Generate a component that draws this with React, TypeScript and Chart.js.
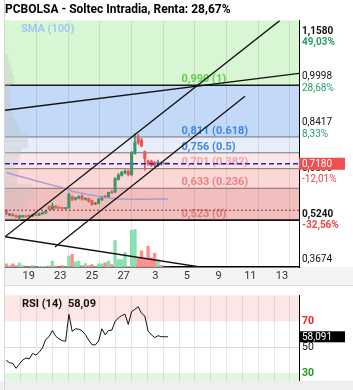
import React, { useEffect, useRef } from 'react';
import { Chart, registerables } from 'chart.js';

Chart.register(...registerables);

const FONT = 'Roboto, "Noto Sans", "DejaVu Sans", sans-serif';
const TITLE = 'PCBOLSA - Soltec Intradia, Renta: 28,67%';

// ---------- data ----------
const slots = [0,1,2,3,4,5,6,7,8,9,10,11,12,13,14,15,16,17,18,19,20,21,22,23,24,25,26,27,28,29,30,31,32,33,34,35,36,37,38,39,40,41,42,43,44,45,46,47,48,49];

const opens = [0.557,0.540,0.543,0.538,0.531,0.535,0.537,0.535,0.537,0.542,0.540,0.544,0.548,0.570,0.561,0.571,0.566,0.566,0.563,0.565,0.604,0.594,0.598,0.606,0.594,0.597,0.590,0.578,0.581,0.593,0.606,0.603,0.622,0.620,0.664,0.678,0.686,0.693,0.680,0.754,0.808,0.800,0.760,0.728,0.727,0.723,0.712,0.721,0.718,0.718];
const highs = [0.559,0.546,0.545,0.540,0.540,0.539,0.538,0.540,0.544,0.543,0.547,0.551,0.556,0.572,0.582,0.573,0.568,0.567,0.566,0.616,0.607,0.602,0.607,0.610,0.601,0.599,0.592,0.584,0.598,0.606,0.609,0.620,0.625,0.670,0.684,0.692,0.697,0.696,0.760,0.823,0.820,0.806,0.762,0.731,0.731,0.726,0.731,0.724,0.719,0.719];
const lows = [0.541,0.538,0.536,0.532,0.523,0.532,0.533,0.533,0.535,0.538,0.538,0.543,0.546,0.559,0.559,0.563,0.562,0.561,0.561,0.563,0.590,0.592,0.596,0.592,0.592,0.585,0.574,0.576,0.579,0.591,0.600,0.601,0.615,0.618,0.661,0.675,0.683,0.676,0.677,0.751,0.786,0.776,0.696,0.712,0.708,0.706,0.708,0.713,0.717,0.717];
const closes = [0.544,0.543,0.538,0.534,0.537,0.537,0.535,0.538,0.542,0.540,0.545,0.549,0.554,0.561,0.571,0.565,0.564,0.563,0.565,0.612,0.594,0.600,0.605,0.596,0.598,0.588,0.577,0.581,0.596,0.604,0.602,0.618,0.618,0.667,0.679,0.689,0.693,0.680,0.756,0.792,0.790,0.780,0.736,0.718,0.713,0.711,0.724,0.718,0.718,0.718];
const volumes = [30,13,30,13,37,13,4,5,17,4,7,7,7,10,57,10,3,13,4,107,123,50,57,13,33,13,23,4,30,30,40,57,23,257,73,73,140,6,357,363,83,157,90,200,90,133,73,17,0,0];

const sma100 = [0.688,0.685,0.681,0.678,0.675,0.672,0.669,0.666,0.662,0.659,0.656,0.653,0.650,0.647,0.644,0.641,0.638,0.635,0.631,0.627,0.623,0.620,0.618,0.616,0.613,0.611,0.609,0.607,0.605,0.603,0.601,0.599,0.598,0.597,0.596,0.596,0.595,0.595,0.595,0.595,0.595,0.595,0.595,0.595,0.596,0.596,0.596,0.596,0.596,0.596];

const rsi14 = [39.8,38.0,37.4,33.6,37.0,40.0,41.6,40.9,45.2,43.9,46.1,49.5,56.1,58.2,63.0,58.5,56.5,55.1,54.6,75.5,62.3,64.3,64.0,62.6,59.8,55.5,52.0,51.7,54.8,64.3,59.6,63.0,63.2,70.0,72.7,74.6,75.6,67.7,77.6,79.4,81.4,76.4,74.2,62.6,59.6,57.5,58.9,58.2,58.1,58.091];

// Fibonacci retracement levels
const fibLevels = [0.990, 0.811, 0.756, 0.701, 0.633, 0.523];
const fibRatios = ['1', '0.618', '0.5', '0.382', '0.236', '0'];

// Volume-by-price profile (left side)
const profilePrices = [0.535,0.560,0.585,0.610,0.635,0.660,0.685,0.710,0.735,0.760,0.785,0.810,0.835,0.860,0.885,0.910,0.935,0.960,0.985,1.010,1.035,1.060,1.085];
const profileVolumes = [15,18,22,30,26,12,13,9,14,16,23,22,14,11,8,6,5,4,5,9,7,5,3];

// Trend lines (anchor points: slot, price)
const trendA = [{ x: -0.36, y: 0.4651 }, { x: 82.97, y: 1.2149 }];
const trendB = [{ x: 14.79, y: 0.4295 }, { x: 72.36, y: 0.9519 }];
const trendC = [{ x: -0.36, y: 0.9035 }, { x: 88.73, y: 1.0315 }];
const trendD = [{ x: -0.36, y: 0.4651 }, { x: 58.7, y: 0.3602 }];

const refPrice = 0.557;
const lastPrice = 0.718;

const yTickValues = [1.1580, 0.9998, 0.8417, 0.6836, 0.5240, 0.3674];
const yTickPercents = ['49,03%', '28,68%', '8,33%', '-12,01%', '-32,56%'];
const yBoldTicks = [1.1580, 0.5240];
const xTickSlots = [9.24, 18.82, 28.42, 38.0, 47.6, 57.2, 66.8, 76.4, 86.0];
const xTickLabels = ['19', '23', '25', '27', '3', '5', '9', '11', '13'];
const rsiGridSlots = [4.44, 9.24, 14.03, 18.82, 23.62, 28.42, 33.2, 38.0, 42.8, 47.6, 52.4, 57.2, 62.0, 66.8, 71.6, 76.4, 81.2, 86.0];
const rsiTickValues = [70, 50, 30];

// ---------- scale bounds ----------
const X_MIN = -0.36;
const X_MAX = 88.73;
const Y_MIN = 0.3602;
const Y_MAX = 1.2149;
const RSI_MIN = 24;
const RSI_MAX = 90.3;

// ---------- styles ----------
const bandColors = ['#d8f6d3', '#c4d9f7', '#e6eef9', '#fde7e7', '#fcd7d7', '#f2bfbf'];
const fibLineColors = ['#1a1a1a', '#707482', '#707482', '#857070', '#8a6a6a', '#111111'];
const fibLineWidths = [1.5, 1, 1, 1, 1, 1.8];
const fibLabelColors = ['#5fcf4c', '#3f86e6', '#3f86e6', '#f2a2a2', '#ee7f7f', '#df7b7b'];
const VALUE_LABEL_SHIFT = 5.5; // px above the tick
const PCT_LABEL_SHIFT = 6; // px below the tick

const fmt = (v: number, d: number) => v.toFixed(d).replace('.', ',');
const tickVal = (c: any) => (c && c.tick ? c.tick.value : undefined);

// each price tick carries a value label (above) and a percent label (below)
type YLabel = { value: number; text: string; kind: 'v' | 'p'; bold: boolean };
const yLabels: YLabel[] = [];
yTickValues.forEach((v, k) => {
  const bold = yBoldTicks.indexOf(v) >= 0;
  yLabels.push({ value: v, text: fmt(v, 4), kind: 'v', bold });
  if (yTickPercents[k]) yLabels.push({ value: v, text: yTickPercents[k], kind: 'p', bold });
});

function MainPanel() {
  const ref = useRef<HTMLCanvasElement | null>(null);
  useEffect(() => {
    if (!ref.current) return;
    const isUp = slots.map((i) => closes[i] >= opens[i]);
    const bodyColors = isUp.map((u) => (u ? '#3e9463' : '#ee5656'));
    const volColors = isUp.map((u) => (u ? '#86e0ae' : '#ff8b8b'));

    const plugin: any = {
      id: 'mainDecor',
      beforeDraw(chart: any) {
        const { ctx, chartArea: a, scales } = chart;
        const y = scales.y;
        ctx.save();
        ctx.fillStyle = '#f4f4f4';
        ctx.fillRect(a.left, a.bottom, chart.width - a.left, chart.height - a.bottom);
        ctx.fillStyle = '#dadada';
        ctx.fillRect(a.left, chart.height - 1, chart.width - a.left, 1);
        const edges = [y.max, ...fibLevels];
        for (let k = 0; k < bandColors.length; k++) {
          const t = Math.max(a.top, y.getPixelForValue(edges[k]));
          const b = y.getPixelForValue(edges[k + 1]);
          ctx.fillStyle = bandColors[k];
          ctx.fillRect(a.left, t, a.right - a.left, b - t);
        }
        ctx.restore();
      },
      beforeDatasetsDraw(chart: any) {
        const { ctx, chartArea: a, scales } = chart;
        const y = scales.y;
        ctx.save();
        fibLevels.forEach((lv, k) => {
          const py = y.getPixelForValue(lv);
          ctx.strokeStyle = fibLineColors[k];
          ctx.lineWidth = fibLineWidths[k];
          ctx.beginPath();
          ctx.moveTo(a.left, py);
          ctx.lineTo(a.right, py);
          ctx.stroke();
        });
        ctx.font = `bold 11px ${FONT}`;
        ctx.textBaseline = 'middle';
        ctx.textAlign = 'left';
        const lx = a.left + (a.right - a.left) * 0.6;
        fibLevels.forEach((lv, k) => {
          const py = y.getPixelForValue(lv);
          ctx.fillStyle = fibLabelColors[k];
          ctx.fillText(`${fmt(lv, 3)} (${fibRatios[k]})`, lx, py - 6);
        });
        ctx.fillStyle = '#a3c8f1';
        ctx.fillText('SMA (100)', a.left + 16, a.top + 8.5);
        ctx.restore();
      },
      afterDatasetsDraw(chart: any) {
        const { ctx, chartArea: a, scales } = chart;
        const y = scales.y;
        ctx.save();
        let py = y.getPixelForValue(refPrice);
        ctx.strokeStyle = '#8b3333';
        ctx.lineWidth = 1;
        ctx.setLineDash([2, 2]);
        ctx.beginPath();
        ctx.moveTo(a.left, py);
        ctx.lineTo(a.right, py);
        ctx.stroke();
        py = y.getPixelForValue(lastPrice);
        ctx.strokeStyle = '#2323dd';
        ctx.lineWidth = 1.4;
        ctx.setLineDash([5, 3]);
        ctx.beginPath();
        ctx.moveTo(a.left, py);
        ctx.lineTo(a.right, py);
        ctx.stroke();
        ctx.restore();
      },
      afterDraw(chart: any) {
        const { ctx, chartArea: a, scales } = chart;
        const py = scales.y.getPixelForValue(lastPrice);
        ctx.save();
        ctx.fillStyle = '#ef5050';
        ctx.fillRect(a.right, py - 6, 46, 12);
        ctx.fillStyle = '#ffffff';
        ctx.font = `10px ${FONT}`;
        ctx.textBaseline = 'middle';
        ctx.textAlign = 'left';
        ctx.fillText(fmt(lastPrice, 4), a.right + 3, py + 0.5);
        ctx.restore();
      },
    };

    const lineDs = (pts: { x: number; y: number }[]) => ({
      type: 'line',
      data: pts,
      borderColor: '#111111',
      borderWidth: 1.3,
      pointRadius: 0,
      fill: false,
      yAxisID: 'y',
      xAxisID: 'x',
      order: 1,
    });

    const chart = new Chart(ref.current, {
      type: 'line',
      data: {
        datasets: [
          {
            type: 'bar',
            indexAxis: 'y',
            xAxisID: 'xProf',
            yAxisID: 'y',
            data: profilePrices.map((p, k) => ({ x: profileVolumes[k], y: p })),
            backgroundColor: 'rgba(190,190,190,0.3)',
            barThickness: 7.2,
            grouped: false,
            order: 7,
          },
          {
            type: 'bar',
            xAxisID: 'x',
            yAxisID: 'yVol',
            data: slots.map((i) => ({ x: i, y: volumes[i] })),
            backgroundColor: volColors,
            barThickness: 2.7,
            grouped: false,
            order: 6,
          },
          {
            type: 'bar',
            xAxisID: 'x',
            yAxisID: 'y',
            data: slots.map((i) => ({ x: i, y: [lows[i], highs[i]] })),
            backgroundColor: bodyColors,
            barThickness: 1,
            grouped: false,
            order: 5,
          },
          {
            type: 'bar',
            xAxisID: 'x',
            yAxisID: 'y',
            data: slots.map((i) => ({ x: i, y: [opens[i], closes[i]] })),
            backgroundColor: bodyColors,
            barThickness: 2.4,
            minBarLength: 1,
            grouped: false,
            order: 4,
          },
          {
            type: 'line',
            xAxisID: 'x',
            yAxisID: 'y',
            data: slots.map((i) => ({ x: i, y: sma100[i] })),
            borderColor: 'rgba(150,150,215,0.85)',
            borderWidth: 1.5,
            pointRadius: 0,
            fill: false,
            order: 3,
          },
          lineDs(trendA),
          lineDs(trendB),
          lineDs(trendC),
          lineDs(trendD),
        ] as any,
      },
      options: {
        responsive: false,
        animation: false,
        layout: { padding: { left: 5, top: 0, right: 0, bottom: 0 } },
        plugins: {
          legend: { display: false },
          tooltip: { enabled: false },
          title: {
            display: true,
            text: TITLE,
            align: 'start',
            color: '#000',
            font: { family: FONT, size: 12, weight: 'bold' },
            padding: { top: 3, bottom: 3 },
          },
        },
        scales: {
          x: {
            type: 'linear',
            min: X_MIN,
            max: X_MAX,
            offset: false,
            afterBuildTicks: (s: any) => {
              s.ticks = xTickSlots.map((v) => ({ value: v }));
            },
            afterFit: (s: any) => {
              s.height = 19;
            },
            grid: { color: 'rgba(0,0,0,0.09)', drawTicks: false, offset: false },
            border: { color: '#000', width: 1.5 },
            ticks: {
              callback: (_v: any, i: number) => xTickLabels[i],
              labelOffset: -8,
              padding: 3,
              color: '#333',
              font: { family: FONT, size: 11 },
              maxRotation: 0,
              autoSkip: false,
            },
          },
          xProf: { type: 'linear', display: false, min: 0, max: 294, offset: false },
          y: {
            type: 'linear',
            position: 'right',
            min: Y_MIN,
            max: Y_MAX,
            offset: false,
            afterBuildTicks: (s: any) => {
              // value label sits just above its price, percent label just below
              const pxPerUnit = (s.height || 247) / (Y_MAX - Y_MIN);
              s.ticks = yLabels.map((l) => ({
                value: l.value + (l.kind === 'v' ? VALUE_LABEL_SHIFT : -PCT_LABEL_SHIFT) / pxPerUnit,
              }));
            },
            afterFit: (s: any) => {
              s.width = 54;
            },
            grid: { display: false, drawTicks: false, offset: false },
            border: { color: '#000', width: 1 },
            ticks: {
              callback: (_v: any, i: number) => (yLabels[i] ? yLabels[i].text : ''),
              padding: 3,
              autoSkip: false,
              color: (c: any) => {
                const l = yLabels[c.index];
                if (!l || l.kind === 'v') return '#111';
                return l.text.startsWith('-') ? '#f04444' : '#26a06a';
              },
              font: (c: any) => {
                const l = yLabels[c.index];
                return { family: FONT, size: 10, weight: l && l.bold ? 'bold' : 'normal' };
              },
            },
          },
          yVol: { type: 'linear', display: false, min: 0, max: 2400 },
        },
      } as any,
      plugins: [plugin],
    });
    return () => chart.destroy();
  }, []);
  return <canvas ref={ref} width={353} height={286} style={{ display: 'block' }} />;
}

function RsiPanel() {
  const ref = useRef<HTMLCanvasElement | null>(null);
  useEffect(() => {
    if (!ref.current) return;
    const last = rsi14[rsi14.length - 1];
    const plugin: any = {
      id: 'rsiDecor',
      beforeDraw(chart: any) {
        const { ctx, chartArea: a, scales } = chart;
        const y = scales.y;
        ctx.save();
        ctx.fillStyle = '#efefef';
        ctx.fillRect(0, a.bottom, chart.width, chart.height - a.bottom);
        const p70 = y.getPixelForValue(70);
        const p30 = y.getPixelForValue(30);
        ctx.fillStyle = '#fde6e6';
        ctx.fillRect(a.left, a.top, a.right - a.left, p70 - a.top);
        ctx.fillStyle = '#ddf8dd';
        ctx.fillRect(a.left, p30, a.right - a.left, a.bottom - p30);
        ctx.restore();
      },
      afterDraw(chart: any) {
        const { ctx, chartArea: a, scales } = chart;
        const py = scales.y.getPixelForValue(last);
        ctx.save();
        ctx.fillStyle = '#000';
        ctx.fillRect(a.right, py - 5.5, 46, 11);
        ctx.fillStyle = '#fff';
        ctx.font = `10px ${FONT}`;
        ctx.textBaseline = 'middle';
        ctx.textAlign = 'left';
        ctx.fillText(fmt(last, 3), a.right + 3, py + 0.5);
        ctx.fillStyle = '#111';
        ctx.font = `bold 11px ${FONT}`;
        ctx.fillText('RSI (14)', a.left + 17, a.top + 9);
        ctx.fillText(fmt(last, 2), a.left + 63, a.top + 9);
        ctx.restore();
      },
    };
    const chart = new Chart(ref.current, {
      type: 'line',
      data: {
        datasets: [
          {
            data: slots.map((i) => ({ x: i, y: rsi14[i] })),
            borderColor: '#111',
            borderWidth: 1,
            pointRadius: 0,
            fill: false,
          },
        ],
      },
      options: {
        responsive: false,
        animation: false,
        layout: { padding: { left: 5, top: 1, right: 0, bottom: 5 } },
        plugins: { legend: { display: false }, tooltip: { enabled: false } },
        scales: {
          x: {
            type: 'linear',
            min: X_MIN,
            max: X_MAX,
            afterBuildTicks: (s: any) => {
              s.ticks = rsiGridSlots.map((v) => ({ value: v }));
            },
            afterFit: (s: any) => {
              s.height = 0;
            },
            grid: { color: 'rgba(0,0,0,0.09)', drawTicks: false },
            border: { display: false },
            ticks: { display: false },
          },
          y: {
            type: 'linear',
            position: 'right',
            min: RSI_MIN,
            max: RSI_MAX,
            afterBuildTicks: (s: any) => {
              s.ticks = rsiTickValues.map((v) => ({ value: v }));
            },
            afterFit: (s: any) => {
              s.width = 54;
            },
            grid: {
              drawTicks: false,
              color: (c: any) => (tickVal(c) === 50 ? '#dddddd' : 'rgba(0,0,0,0)'),
            },
            border: { color: '#000', width: 1 },
            ticks: {
              padding: 3,
              autoSkip: false,
              callback: (v: any) => String(v),
              color: (c: any) => {
                const v = tickVal(c);
                return v === 70 ? '#ee2020' : v === 30 ? '#1f9a1f' : '#111';
              },
              font: (c: any) => ({ family: FONT, size: 10.5, weight: tickVal(c) === 50 ? 'normal' : 'bold' }),
            },
          },
        },
      } as any,
      plugins: [plugin],
    });
    return () => chart.destroy();
  }, []);
  return <canvas ref={ref} width={353} height={104} style={{ display: 'block' }} />;
}

export default function App() {
  return (
    <div style={{ position: 'absolute', left: 0, top: 0, width: 353, height: 390, background: '#fff', overflow: 'hidden' }}>
      <div style={{ position: 'absolute', left: 0, top: 0 }}>
        <MainPanel />
      </div>
      <div style={{ position: 'absolute', left: 0, top: 286 }}>
        <RsiPanel />
      </div>
      <div style={{ position: 'absolute', left: 4, top: 0, width: 1, height: 390, background: '#d6d6d6' }} />
    </div>
  );
}
